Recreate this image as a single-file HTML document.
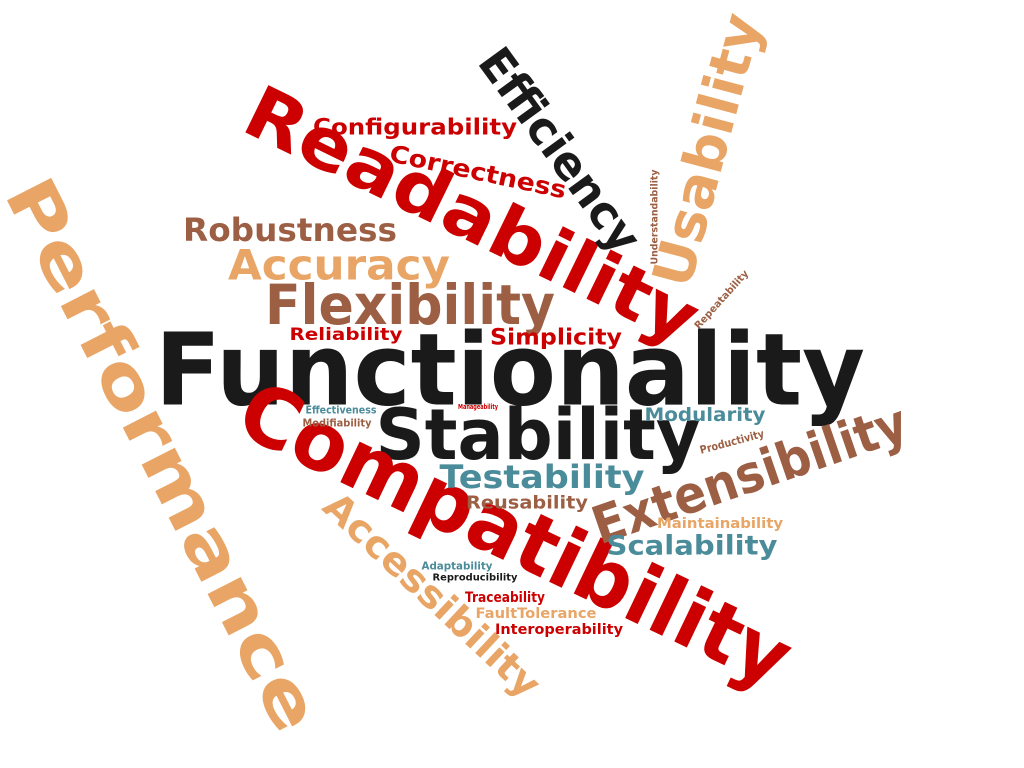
<!DOCTYPE html>
<html><head><meta charset="utf-8"><style>
html,body{margin:0;padding:0;background:#fff;}
svg{display:block;}
text{font-family:"DejaVu Sans","Liberation Sans",sans-serif;font-weight:bold;}
</style></head><body>
<svg id="cloud" width="1024" height="768" viewBox="0 0 1024 768"></svg>
<script>
const words = ["Functionality","Stability","Compatibility","Readability","Performance","Usability","Efficiency","Extensibility","Accessibility","Flexibility","Accuracy","Robustness","Configurability","Correctness","Reliability","Simplicity","Modularity","Testability","Reusability","Scalability","Maintainability","Productivity","Effectiveness","Modifiability","Manageability","Understandability","Repeatability","Adaptability","Reproducibility","Traceability","FaultTolerance","Interoperability"];
const cx = [510,538,515,472,162,707,560,750,432,410,339,290,415,478,346,556,705,542,527,692,720,732,341,337,478,655,722,457,475,505,536,559];
const cy = [370,435,535,215,455,150,150,475,595,305,265,230,128,172,335,338,415,477,503,546,524,442,410,423,407,217,300,566,578,598,614,630];
const widths = [710,325,600,494,610,280,240,329,280,290,222,214,204,180,113,132,121,205,122,171,126,66,71,69,40,95,75,71,85,80,121,128];
const sizes = [100,70,82,72,68,55,46,52,38,55,42,32,22,24,17,22,19,32,18,27,14,11,11,11,7,10,10,11,10,14,14,14];
const angles = [0,0,25.5,26,63,-75,54,-19,43,0,0,0,0,12,0,0,0,0,0,0,0,-15,0,0,0,-90,-48,0,0,0,0,0];
const colors = ["#1a1a1a","#1a1a1a","#cc0000","#cc0000","#e8a566","#e8a566","#1a1a1a","#9c5f44","#e8a566","#9c5f44","#e8a566","#9c5f44","#cc0000","#cc0000","#cc0000","#cc0000","#4a8c9a","#4a8c9a","#9c5f44","#4a8c9a","#e8a566","#9c5f44","#4a8c9a","#9c5f44","#cc0000","#9c5f44","#9c5f44","#4a8c9a","#1a1a1a","#cc0000","#e8a566","#cc0000"];
const svg = document.getElementById('cloud');
const NS = "http://www.w3.org/2000/svg";
for (let i = 0; i < words.length; i++) {
  const t = document.createElementNS(NS, 'text');
  
  
  t.setAttribute('x', 0);
  t.setAttribute('y', 0);
  t.setAttribute('text-anchor', 'middle');
  t.setAttribute('dominant-baseline', 'central');
  t.setAttribute('font-size', sizes[i]);
  t.setAttribute('fill', colors[i]);
  t.setAttribute('textLength', widths[i]);
  t.setAttribute('lengthAdjust', 'spacingAndGlyphs');
  t.setAttribute('transform', 'translate(' + cx[i] + ',' + cy[i] + ') rotate(' + angles[i] + ')');
  t.textContent = words[i];
  svg.appendChild(t);
}
</script>
</body></html>
